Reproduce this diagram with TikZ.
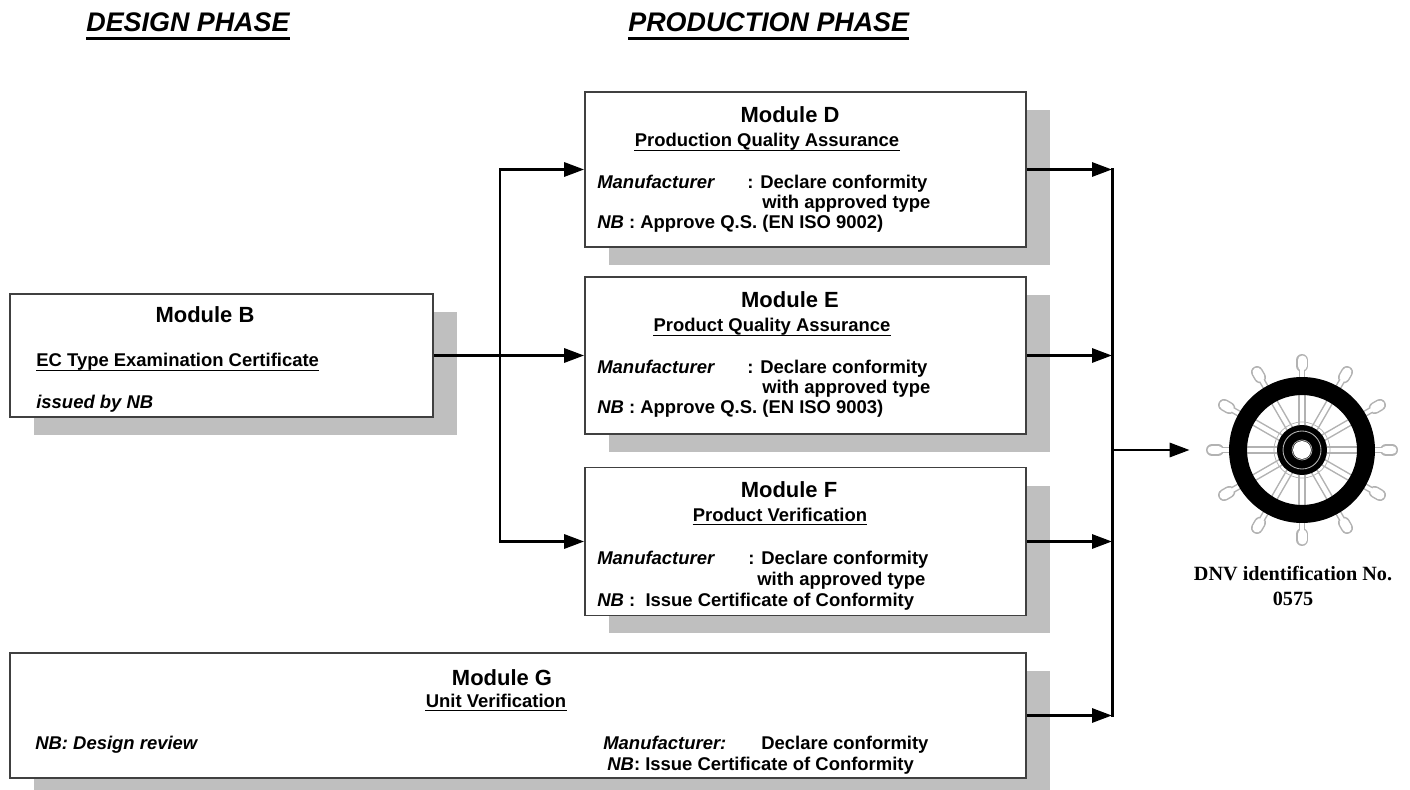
\documentclass[tikz,border=0pt]{standalone}
\usepackage{fontspec}
\setmainfont{Liberation Sans}
\newfontfamily\dnvfont{Liberation Serif}
\usetikzlibrary{%
  arrows.meta,%
  shadows,% wg. drop shadow
  positioning%
}

\tikzset{
  modbox/.style={draw=black!75, line width=1pt, fill=white, inner sep=0,
    drop shadow={shadow xshift=0.48cm, shadow yshift=-0.36cm, fill=black!25, opacity=1}},
  bodytxt/.style={inner sep=0, anchor=base west, font=\bfseries\fontsize{10.5}{12}\selectfont},
  subtxt/.style={bodytxt, anchor=base},
  modtitle/.style={inner sep=0, anchor=base, font=\bfseries\fontsize{12.5}{14}\selectfont},
  hdr/.style={inner sep=0, anchor=base west, font=\bfseries\itshape\fontsize{15.3}{17}\selectfont},
  dnv/.style={inner sep=0, anchor=base, font=\dnvfont\bfseries\fontsize{11.5}{13}\selectfont},
  flow/.style={->, line width=1.7pt},
  bus/.style={line width=1.7pt, line cap=rect},
  ulthin/.style={line width=0.8pt},
  ulthick/.style={line width=1.6pt},
}

\begin{document}
\begin{tikzpicture}[
  x=0.02cm, y=-0.02cm,
  >={Triangle[length=0.4cm, width=0.28cm]},
]
\useasboundingbox (0,0) rectangle (1410,790);

% phase headers
\node[hdr] (hdrDesign) at (86,32) {DESIGN PHASE};
\node[hdr] (hdrProd) at (628,32) {PRODUCTION PHASE};
\foreach \n in {hdrDesign,hdrProd}
  \draw[ulthick] ([yshift=-0.13cm]\n.base west) -- ([yshift=-0.13cm]\n.base east);

% module boxes
\node[modbox, minimum width=8.46cm, minimum height=2.46cm] (modB) at (221.5,355.5) {};
\node[modbox, minimum width=8.82cm, minimum height=3.1cm] (modD) at (805.5,169.5) {};
\node[modbox, minimum width=8.82cm, minimum height=3.14cm] (modE) at (805.5,355.5) {};
\node[modbox, minimum width=8.82cm, minimum height=2.96cm] (modF) at (805.5,541.5) {};
\node[modbox, minimum width=20.32cm, minimum height=2.5cm] (modG) at (518,715.5) {};

% module B
\node[modtitle] (titB) at (205,323) {Module B};
\node[bodytxt] (certB) at (36,367) {EC Type Examination Certificate};
\node[bodytxt] (issB) at (36,409) {\itshape issued by NB};

% module D
\node[modtitle] (titD) at (790,123) {Module D};
\node[subtxt] (subD) at (767,147) {Production Quality Assurance};
\node[bodytxt] (manD) at (597,189) {\itshape Manufacturer};
\node[bodytxt] (decD) at (747,189) {: Declare conformity};
\node[bodytxt] (typD) at (762,209) {with approved type};
\node[bodytxt] (nbD) at (597,229) {\textit{NB} : Approve Q.S. (EN ISO 9002)};

% module E
\node[modtitle] (titE) at (790,308) {Module E};
\node[subtxt] (subE) at (772,332) {Product Quality Assurance};
\node[bodytxt] (manE) at (597,374) {\itshape Manufacturer};
\node[bodytxt] (decE) at (747,374) {: Declare conformity};
\node[bodytxt] (typE) at (762,394) {with approved type};
\node[bodytxt] (nbE) at (597,414) {\textit{NB} : Approve Q.S. (EN ISO 9003)};

% module F
\node[modtitle] (titF) at (789,498) {Module F};
\node[subtxt] (subF) at (780,521) {Product Verification};
\node[bodytxt] (manF) at (597,564) {\itshape Manufacturer};
\node[bodytxt] (decF) at (748,564) {: Declare conformity};
\node[bodytxt] (typF) at (757,585) {with approved type};
\node[bodytxt] (nbF) at (597,606) {\textit{NB} :\ \ Issue Certificate of Conformity};

% module G
\node[modtitle] (titG) at (502,685) {Module G};
\node[subtxt] (subG) at (496,707) {Unit Verification};
\node[bodytxt] (nbG) at (35,749) {\itshape NB: Design review};
\node[bodytxt] (manG) at (603,749) {\itshape Manufacturer:};
\node[bodytxt] (decG) at (761,749) {Declare conformity};
\node[bodytxt] (issG) at (607,770) {\textit{NB}: Issue Certificate of Conformity};

\foreach \n in {certB,subD,subE,subF,subG}
  \draw[ulthin] ([yshift=-0.07cm]\n.base west) -- ([yshift=-0.07cm]\n.base east);

% wheel
\node[circle, minimum size=4.48cm, inner sep=0] (wheel) at (1302,450) {};
\foreach \a in {0,30,...,330} {
  \begin{scope}[shift={(wheel.center)}, rotate=\a]
    \draw[gray!60, line width=0.15cm] (24,0) -- (60,0);
    \draw[gray!60, line width=0.13cm] (68,0) -- (82,0);
    \draw[gray!60, line width=0.24cm, line cap=round] (84,0) -- (90,0);
  \end{scope}
}
\foreach \a in {0,30,...,330} {
  \begin{scope}[shift={(wheel.center)}, rotate=\a]
    \draw[white, line width=0.09cm] (24,0) -- (60,0);
    \draw[white, line width=0.07cm] (68,0) -- (84,0);
    \draw[white, line width=0.18cm, line cap=round] (84,0) -- (90,0);
  \end{scope}
}
\fill[black, even odd rule] (wheel.center) circle[radius=1.46cm] circle[radius=1.1cm];
\draw[gray!60, line width=0.4pt] (wheel.center) circle[radius=0.56cm];
\fill[black] (wheel.center) circle[radius=0.5cm];
\draw[gray!60, line width=0.5pt] (wheel.center) circle[radius=0.38cm];
\fill[white] (wheel.center) circle[radius=0.18cm];
\draw[gray!60, line width=0.4pt] (wheel.center) circle[radius=0.2cm];

\node[dnv] (dnvA) at (1293,580) {DNV identification No.};
\node[dnv] (dnvB) at (1293,605) {0575};

% connectors
\coordinate (busL) at (500,355.5);
\coordinate (busR) at (1112,450);
\draw[flow] (busL) |- (modD.west);
\draw[flow] (busL) |- (modF.west);
\draw[flow] (modB.east) -- (modE.west);
\foreach \m in {modD,modE,modF,modG}
  \draw[flow] (\m.east) -- (\m.east -| busR);
\draw[bus] (modD.east -| busR) -- (modG.east -| busR);
\draw[flow] (busR) -- (wheel.west);

\end{tikzpicture}
\end{document}
